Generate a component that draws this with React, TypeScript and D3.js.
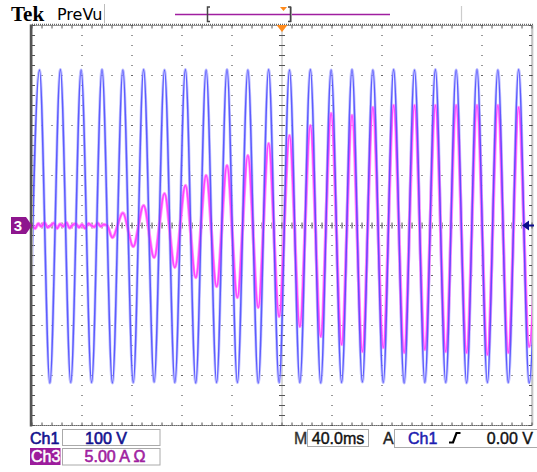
import React from "react";
import * as d3 from "d3";

// Ch1 voltage extrema (ms, V)
const ch1Times = [
  -202.3, -194.0, -185.7, -177.3, -169.0, -160.7, -152.3, -144.0, -135.7, -127.3,
  -119.0, -110.7, -102.3, -94.0, -85.7, -77.3, -69.0, -60.7, -52.3, -44.0,
  -35.7, -27.3, -19.0, -10.7, -2.3, 6.0, 14.3, 22.7, 31.0, 39.3,
  47.7, 56.0, 64.3, 72.7, 81.0, 89.3, 97.7, 106.0, 114.3, 122.7,
  131.0, 139.3, 147.7, 156.0, 164.3, 172.7, 181.0, 189.3, 197.7, 206.0,
];
const ch1Volts = [
  -314, 311, -315, 312, -314, 311, -314, 312, -315, 311,
  -314, 312, -313, 311, -314, 312, -315, 311, -314, 312,
  -314, 311, -315, 312, -314, 311, -314, 312, -315, 311,
  -314, 312, -313, 311, -314, 312, -315, 311, -314, 312,
  -314, 311, -315, 312, -314, 311, -314, 312, -315, 311,
];

// Ch3 current: noisy baseline, then inrush growth (ms, A)
const ch3Times = [
  -200, -197.5, -195, -192.5, -190, -187.5, -185, -182.5, -180, -177.5,
  -175, -172.5, -170, -167.5, -165, -162.5, -160, -157.5, -155, -152.5,
  -150, -147.5, -145, -142.5, -140,
  -135.7, -127.3, -119.0, -110.7, -102.3, -94.0, -85.7, -77.3, -69.0, -60.7,
  -52.3, -44.0, -35.7, -27.3, -19.0, -10.7, -2.3, 6.0, 14.3, 22.7,
  31.0, 39.3, 47.7, 56.0, 64.3, 72.7, 81.0, 89.3, 97.7, 106.0,
  114.3, 122.7, 131.0, 139.3, 147.7, 156.0, 164.3, 172.7, 181.0, 189.3,
  197.7, 206.0,
];
const ch3Amps = [
  0.1, -0.3, 0.2, -0.1, 0.3, -0.2, 0.0, 0.25, -0.3, 0.15,
  -0.1, 0.3, -0.25, 0.05, 0.2, -0.2, 0.1, -0.3, 0.2, 0.0,
  -0.15, 0.25, -0.1, 0.1, 0.0,
  -1.2, 1.25, -2.1, 2.0, -3.2, 3.2, -4.2, 4.0, -5.2, 5.0,
  -6.1, 6.0, -7.2, 7.0, -8.2, 8.2, -9.1, 9.0, -10.1, 10.0,
  -11.1, 11.2, -11.9, 11.0, -12.6, 11.8, -12.2, 12.0, -12.7, 12.0,
  -12.4, 12.0, -12.6, 12.0, -12.7, 12.0, -12.9, 12.0, -12.7, 11.8,
  -12.1, 12.0,
];

const timeDomain = [-200, 200]; // 40 ms/div, 10 div
const voltDomain = [-400, 400]; // 100 V/div, 8 div
const ampDomain = [-20, 20]; // 5 A/div

const NAVY = "#12128e";
const PURPLE = "#a01ea0";

export default function App() {
  const left = 32,
    right = 532,
    top = 25.5,
    bottom = 425.5;
  const x = d3.scaleLinear().domain(timeDomain).range([left, right]);
  const yV = d3.scaleLinear().domain(voltDomain).range([bottom, top]);
  const yA = d3.scaleLinear().domain(ampDomain).range([bottom, top]);
  const cx = x(0);
  const cy = yV(0);

  const line1 = d3
    .line<number>()
    .x((_, i) => x(ch1Times[i]))
    .y((d) => yV(d))
    .curve(d3.curveMonotoneX)(ch1Volts) as string;
  const line3 = d3
    .line<number>()
    .x((_, i) => x(ch3Times[i]))
    .y((d) => yA(d))
    .curve(d3.curveMonotoneX)(ch3Amps) as string;

  const majorX = d3.range(1, 10).map((i) => x(timeDomain[0] + i * 40));
  const majorY = d3.range(1, 8).map((i) => yV(voltDomain[0] + i * 100));
  const stepX = d3.range(left, right + 0.1, 10);
  const stepY = d3.range(top, bottom + 0.1, 10);

  const dots: JSX.Element[] = [];
  majorX.forEach((gx, i) => {
    if (Math.abs(gx - cx) < 1) return;
    stepY.forEach((gy, j) =>
      dots.push(<rect key={`v${i}-${j}`} x={gx - 0.5} y={gy - 0.5} width={1} height={1} fill="#333" />)
    );
  });
  majorY.forEach((gy, i) => {
    if (Math.abs(gy - cy) < 1) return;
    stepX.forEach((gx, j) =>
      dots.push(<rect key={`h${i}-${j}`} x={gx - 0.5} y={gy - 0.5} width={1} height={1} fill="#333" />)
    );
  });

  const font = "'Liberation Sans', Arial, sans-serif";

  return (
    <svg
      width={537}
      height={472}
      style={{ position: "fixed", left: 0, top: 0, background: "#fff" }}
    >
      <rect x={0} y={0} width={537} height={472} fill="#fff" />

      {/* header */}
      <text x={11} y={21} fontFamily="'Liberation Serif', serif" fontWeight="bold" fontSize={21} fill="#000">
        Tek
      </text>
      <text x={57} y={20} fontFamily="'DejaVu Sans', sans-serif" fontSize={16} fill="#000">
        PreVu
      </text>
      <line x1={104.5} x2={104.5} y1={4} y2={23} stroke="#bbb" strokeWidth={1} />
      <line x1={175} x2={390} y1={14.5} y2={14.5} stroke={PURPLE} strokeWidth={1.5} />
      <path d="M210,7 H207.5 V21.5 H210" fill="none" stroke="#444" strokeWidth={1.5} />
      <path d="M288,7 H290.5 V21.5 H288" fill="none" stroke="#444" strokeWidth={1.5} />
      <line x1={291.5} x2={291.5} y1={7} y2={22} stroke="#999" strokeWidth={1} />
      <path d="M280,7 L287,7 L283.5,11 Z" fill="#ff8a1c" />
      <line x1={461.5} x2={461.5} y1={6} y2={22} stroke="#ccc" strokeWidth={1.2} />

      {/* graticule */}
      <rect x={left} y={top} width={right - left} height={bottom - top} fill="none" stroke="#999" strokeWidth={1} />
      <line x1={31} x2={31} y1={top - 1} y2={bottom + 1} stroke="#555" strokeWidth={2.5} />
      <line x1={left} x2={right + 2} y1={top - 1} y2={top - 1} stroke="#666" strokeWidth={1.5} strokeDasharray="1,1" />
      <line x1={left} x2={right} y1={bottom} y2={bottom} stroke="#666" strokeWidth={1} strokeDasharray="1,1" />
      <line x1={right + 1} x2={right + 1} y1={top} y2={bottom} stroke="#aaa" strokeWidth={1} strokeDasharray="1,1" />
      {stepX.map((gx, i) => (
        <g key={`bt${i}`}>
          <line x1={gx} x2={gx} y1={top} y2={top + 3} stroke="#555" strokeWidth={1} />
          <line x1={gx} x2={gx} y1={bottom} y2={bottom - 3} stroke="#555" strokeWidth={1} />
        </g>
      ))}
      {stepY.map((gy, i) => (
        <g key={`bl${i}`}>
          <line x1={left} x2={left + 3} y1={gy} y2={gy} stroke="#555" strokeWidth={1} />
          <line x1={right} x2={right - 3} y1={gy} y2={gy} stroke="#555" strokeWidth={1} />
        </g>
      ))}
      {dots}
      <line x1={cx} x2={cx} y1={top} y2={bottom} stroke="#666" strokeWidth={1} strokeDasharray="1,1" />
      <line x1={left} x2={right} y1={cy} y2={cy} stroke="#666" strokeWidth={1} strokeDasharray="1,1" />
      {stepY.map((gy, i) => (
        <line key={`ct${i}`} x1={cx - 3} x2={cx + 3} y1={gy} y2={gy} stroke="#555" strokeWidth={1} />
      ))}
      {stepX.map((gx, i) => (
        <line key={`ch${i}`} x1={gx} x2={gx} y1={cy - 3} y2={cy + 3} stroke="#555" strokeWidth={1} />
      ))}

      {/* traces */}
      <defs>
        <clipPath id="plot">
          <rect x={left + 1} y={top} width={right - left - 1} height={bottom - top} />
        </clipPath>
      </defs>
      <g clipPath="url(#plot)">
        <path d={line1} fill="none" stroke="#a8a8ff" strokeWidth={3} opacity={0.7} />
        <path d={line3} fill="none" stroke="#ff8cff" strokeWidth={3.4} opacity={0.9} />
        <path d={line3} fill="none" stroke="#ff45ff" strokeWidth={1.7} />
        <path d={line1} fill="none" stroke="#4a4aff" strokeWidth={1.5} opacity={0.85} />
      </g>

      {/* trigger position marker */}
      <path d={`M${cx - 5.5},25 L${cx + 5.5},25 L${cx},32 Z`} fill="#ff8a1c" />
      {/* ch3 ground marker */}
      <path d={`M11,${cy - 8.5} H26 L32,${cy} L26,${cy + 8.5} H11 Z`} fill="#8e168e" />
      <text x={18} y={cy + 5.5} textAnchor="middle" fontFamily={font} fontWeight="bold" fontSize={15} fill="#fff">
        3
      </text>
      {/* trigger level marker */}
      <path d={`M522,${cy} L529,${cy - 5} L529,${cy + 5} Z`} fill="#0c0c8c" />
      <line x1={528} x2={534} y1={cy} y2={cy} stroke="#0c0c8c" strokeWidth={2} />

      {/* status */}
      <g fontFamily={font} fontSize={16}>
        <text x={30} y={443.5} fill={NAVY} stroke={NAVY} strokeWidth={0.6}>
          Ch1
        </text>
        <rect x={62.5} y={429.5} width={97.5} height={16} fill="none" stroke="#aaa" strokeWidth={1} />
        <text x={106} y={443.5} textAnchor="middle" fill={NAVY} stroke={NAVY} strokeWidth={0.6}>
          100 V
        </text>
        <rect x={30} y={448} width={30.5} height={17} fill="#9c1c9c" />
        <text x={31} y={462} fill="#fff" stroke="#fff" strokeWidth={0.5}>
          Ch3
        </text>
        <rect x={62.5} y={448.5} width={97.5} height={16.5} fill="none" stroke="#aaa" strokeWidth={1} />
        <text x={115} y={462} textAnchor="middle" fill={PURPLE} stroke={PURPLE} strokeWidth={0.6}>
          5.00 A Ω
        </text>
        <text x={294} y={443.5} fill="#333" stroke="#333" strokeWidth={0.4}>
          M
        </text>
        <rect x={307.5} y={429.5} width={61} height={17} fill="none" stroke="#aaa" strokeWidth={1} />
        <text x={338} y={443.5} textAnchor="middle" fill="#111" stroke="#111" strokeWidth={0.4}>
          40.0ms
        </text>
        <text x={383} y={443.5} fill="#222" stroke="#222" strokeWidth={0.4}>
          A
        </text>
        <rect x={394.5} y={429.5} width={150} height={18} fill="none" stroke="#aaa" strokeWidth={1} />
        <text x={408} y={443.5} fill="#1c1cb0" stroke="#1c1cb0" strokeWidth={0.5}>
          Ch1
        </text>
        <path d="M449,442.5 H453 L456.5,433 H460.5" fill="none" stroke="#000" strokeWidth={2.2} />
        <text x={533} y={443.5} textAnchor="end" fill="#111" stroke="#111" strokeWidth={0.4}>
          0.00 V
        </text>
      </g>
    </svg>
  );
}
